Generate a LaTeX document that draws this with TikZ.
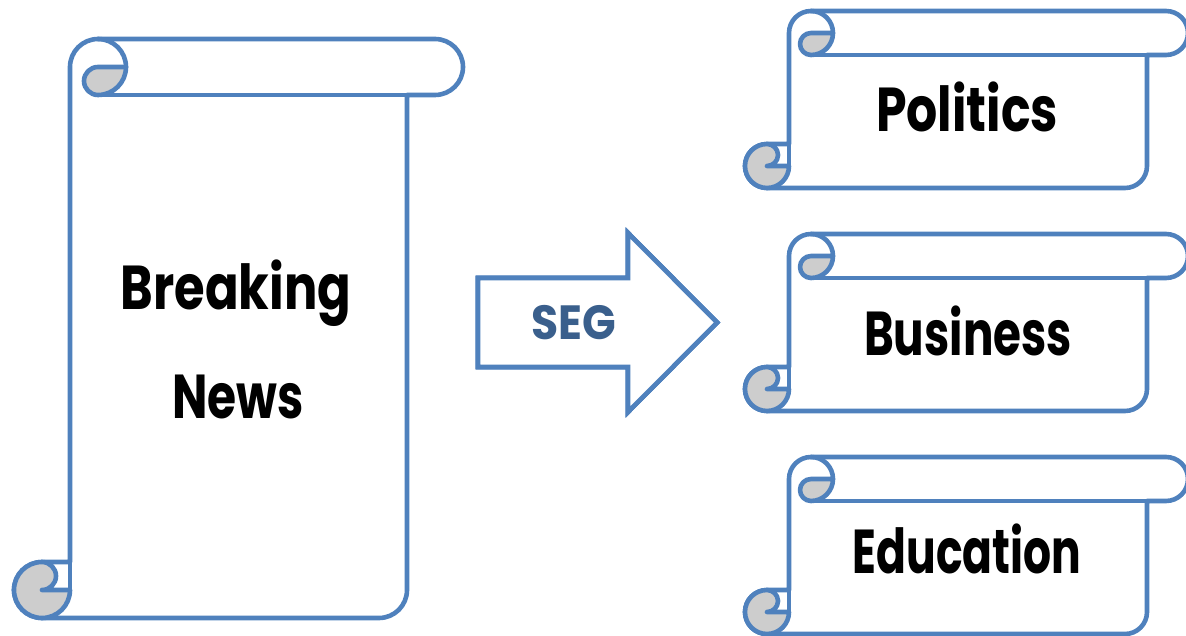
\documentclass[tikz,border=0pt]{standalone}
\usepackage{fontspec}
\setmainfont{Poppins}
\definecolor{scrollblue}{RGB}{79,129,189}
\definecolor{curlgray}{RGB}{205,205,205}
\definecolor{segblue}{RGB}{58,95,140}
\begin{document}
\begin{tikzpicture}[x=1pt,y=-1pt,line join=round,line cap=round,
    scrollline/.style={draw=scrollblue,line width=4.6pt},
    curl/.style={scrollline,fill=curlgray},
    scrolltext/.style={anchor=base,font=\fontsize{62}{62}\selectfont\bfseries}]
    \useasboundingbox (0,0) rectangle (1186,636);
    \def\scrollpaper#1#2#3#4#5#6{% trai, tren, phai, duoi, cuon, than phai
        \filldraw[scrollline,fill=white] ({#1+#5/2},{#4}) -- ({#6-#5/2},{#4}) arc[start angle=90,end angle=0,radius={#5/2}]
            -- ({#6},{#2+#5}) -- ({#3-#5/2},{#2+#5}) arc[start angle=90,end angle=-90,radius={#5/2}]
            -- ({#1+#5*1.5},{#2}) arc[start angle=-90,end angle=-180,radius={#5/2}]
            -- ({#1+#5},{#4-#5}) -- ({#1+#5/2},{#4-#5}) arc[start angle=-90,end angle=-270,radius={#5/2}] -- cycle;
        \filldraw[curl] ({#1+#5*1.5},{#2+#5/2}) -- ({#1+#5*2},{#2+#5/2}) arc[start angle=0,end angle=90,radius={#5/2}]
            arc[start angle=90,end angle=270,radius={#5/4}] -- cycle;
        \draw[scrollline] ({#1+#5*1.5},{#2}) arc[start angle=-90,end angle=0,radius={#5/2}];
        \draw[scrollline] ({#1+#5*1.5},{#2+#5}) -- ({#6},{#2+#5});
        \filldraw[curl] ({#1+#5/2},{#4-#5/2}) arc[start angle=90,end angle=-90,radius={#5/4}]
            arc[start angle=-90,end angle=-360,radius={#5/2}] -- cycle;
        \draw[scrollline] ({#1+#5},{#4-#5}) -- ({#1+#5},{#4-#5/2});
    }
    \scrollpaper{14}{39}{463}{618}{56}{407}
    \foreach \t in {11,234,457}
    \scrollpaper{745}{\t}{1188}{\t+177}{44}{1147}
    % mui ten
    \draw[scrollline,fill=white,line join=miter] (478,278) -- (628,278) -- (628,233) -- (717,322.5)
        -- (628,412) -- (628,367) -- (478,367) -- cycle;
    \node[anchor=base,text=segblue,xscale=0.92,font=\fontsize{48}{48}\selectfont\bfseries] (seg) at (574,339) {SEG};
    \node[scrolltext,xscale=0.8] (breaking) at (236,310) {Breaking};
    \node[scrolltext,xscale=0.76] (news) at (238,418) {News};
    \node[scrolltext,xscale=0.79] (politics) at (967,132) {Politics};
    \node[scrolltext,xscale=0.73] (business) at (968,355) {Business};
    \node[scrolltext,xscale=0.71] (education) at (967,573) {Education};
\end{tikzpicture}
\end{document}
